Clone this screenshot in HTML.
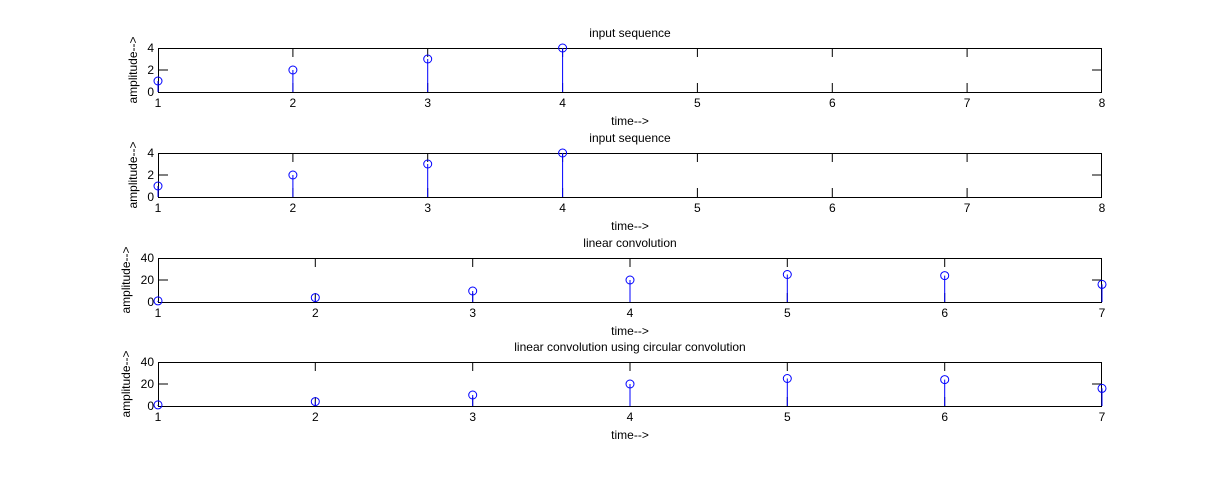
<!DOCTYPE html>
<html><head><meta charset="utf-8"><style>
html,body{margin:0;padding:0;background:#fff;width:1218px;height:478px;overflow:hidden}
text{font-family:"Liberation Sans",sans-serif;font-size:12px;fill:#000}
</style></head><body>
<svg width="1218" height="478" xmlns="http://www.w3.org/2000/svg">
<defs>
<g id="xt8" stroke="#000" stroke-width="1">
<path d="M292.9 0v9M427.7 0v9M562.6 0v9M697.4 0v9M832.3 0v9M967.1 0v9M292.9 44v-9M427.7 44v-9M562.6 44v-9M697.4 44v-9M832.3 44v-9M967.1 44v-9"/>
</g>
<g id="xt7" stroke="#000" stroke-width="1">
<path d="M315.3 0v9M472.7 0v9M630 0v9M787.3 0v9M944.7 0v9M315.3 44v-9M472.7 44v-9M630 44v-9M787.3 44v-9M944.7 44v-9"/>
</g>
</defs>

<!-- Plot 1 -->
<g transform="translate(0,48)">
<rect x="158.5" y="0.5" width="943" height="44" fill="none" stroke="#000"/>
<use href="#xt8"/>
<path d="M158 22h10M1102 22h-10" stroke="#000"/>
<g stroke="#0000ff" fill="none">
<path d="M158 44V33M292.9 44V22M427.7 44V11M562.6 44V0"/>
<circle cx="158" cy="33" r="4"/><circle cx="292.9" cy="22" r="4"/><circle cx="427.7" cy="11" r="4"/><circle cx="562.6" cy="0" r="4"/>
</g>
<g text-anchor="end"><text x="154" y="48">0</text><text x="154" y="26">2</text><text x="154" y="4">4</text></g>
<g text-anchor="middle"><text x="158" y="59">1</text><text x="292.9" y="59">2</text><text x="427.7" y="59">3</text><text x="562.6" y="59">4</text><text x="697.4" y="59">5</text><text x="832.3" y="59">6</text><text x="967.1" y="59">7</text><text x="1102" y="59">8</text>
<text x="630" y="-11">input sequence</text><text x="630" y="77">time--&gt;</text></g>
<text transform="translate(137,22) rotate(-90)" text-anchor="middle">amplitude--&gt;</text>
</g>

<!-- Plot 2 -->
<g transform="translate(0,153)">
<rect x="158.5" y="0.5" width="943" height="44" fill="none" stroke="#000"/>
<use href="#xt8"/>
<path d="M158 22h10M1102 22h-10" stroke="#000"/>
<g stroke="#0000ff" fill="none">
<path d="M158 44V33M292.9 44V22M427.7 44V11M562.6 44V0"/>
<circle cx="158" cy="33" r="4"/><circle cx="292.9" cy="22" r="4"/><circle cx="427.7" cy="11" r="4"/><circle cx="562.6" cy="0" r="4"/>
</g>
<g text-anchor="end"><text x="154" y="48">0</text><text x="154" y="26">2</text><text x="154" y="4">4</text></g>
<g text-anchor="middle"><text x="158" y="59">1</text><text x="292.9" y="59">2</text><text x="427.7" y="59">3</text><text x="562.6" y="59">4</text><text x="697.4" y="59">5</text><text x="832.3" y="59">6</text><text x="967.1" y="59">7</text><text x="1102" y="59">8</text>
<text x="630" y="-11">input sequence</text><text x="630" y="77">time--&gt;</text></g>
<text transform="translate(137,22) rotate(-90)" text-anchor="middle">amplitude--&gt;</text>
</g>

<!-- Plot 3 -->
<g transform="translate(0,258)">
<rect x="158.5" y="0.5" width="943" height="44" fill="none" stroke="#000"/>
<use href="#xt7"/>
<path d="M158 22h10M1102 22h-10" stroke="#000"/>
<g stroke="#0000ff" fill="none">
<path d="M158 44V42.9M315.3 44V39.6M472.7 44V33M630 44V22M787.3 44V16.5M944.7 44V17.6M1102 44V26.4"/>
<circle cx="158" cy="42.9" r="4"/><circle cx="315.3" cy="39.6" r="4"/><circle cx="472.7" cy="33" r="4"/><circle cx="630" cy="22" r="4"/><circle cx="787.3" cy="16.5" r="4"/><circle cx="944.7" cy="17.6" r="4"/><circle cx="1102" cy="26.4" r="4"/>
</g>
<g text-anchor="end"><text x="154" y="48">0</text><text x="154" y="26">20</text><text x="154" y="4">40</text></g>
<g text-anchor="middle"><text x="158" y="59">1</text><text x="315.3" y="59">2</text><text x="472.7" y="59">3</text><text x="630" y="59">4</text><text x="787.3" y="59">5</text><text x="944.7" y="59">6</text><text x="1102" y="59">7</text>
<text x="630" y="-11">linear convolution</text><text x="630" y="77">time--&gt;</text></g>
<text transform="translate(130,22) rotate(-90)" text-anchor="middle">amplitude--&gt;</text>
</g>

<!-- Plot 4 -->
<g transform="translate(0,362)">
<rect x="158.5" y="0.5" width="943" height="44" fill="none" stroke="#000"/>
<use href="#xt7"/>
<path d="M158 22h10M1102 22h-10" stroke="#000"/>
<g stroke="#0000ff" fill="none">
<path d="M158 44V42.9M315.3 44V39.6M472.7 44V33M630 44V22M787.3 44V16.5M944.7 44V17.6M1102 44V26.4"/>
<circle cx="158" cy="42.9" r="4"/><circle cx="315.3" cy="39.6" r="4"/><circle cx="472.7" cy="33" r="4"/><circle cx="630" cy="22" r="4"/><circle cx="787.3" cy="16.5" r="4"/><circle cx="944.7" cy="17.6" r="4"/><circle cx="1102" cy="26.4" r="4"/>
</g>
<g text-anchor="end"><text x="154" y="48">0</text><text x="154" y="26">20</text><text x="154" y="4">40</text></g>
<g text-anchor="middle"><text x="158" y="59">1</text><text x="315.3" y="59">2</text><text x="472.7" y="59">3</text><text x="630" y="59">4</text><text x="787.3" y="59">5</text><text x="944.7" y="59">6</text><text x="1102" y="59">7</text>
<text x="630" y="-11">linear convolution using circular convolution</text><text x="630" y="77">time--&gt;</text></g>
<text transform="translate(130,22) rotate(-90)" text-anchor="middle">amplitude--&gt;</text>
</g>
</svg>
</body></html>
